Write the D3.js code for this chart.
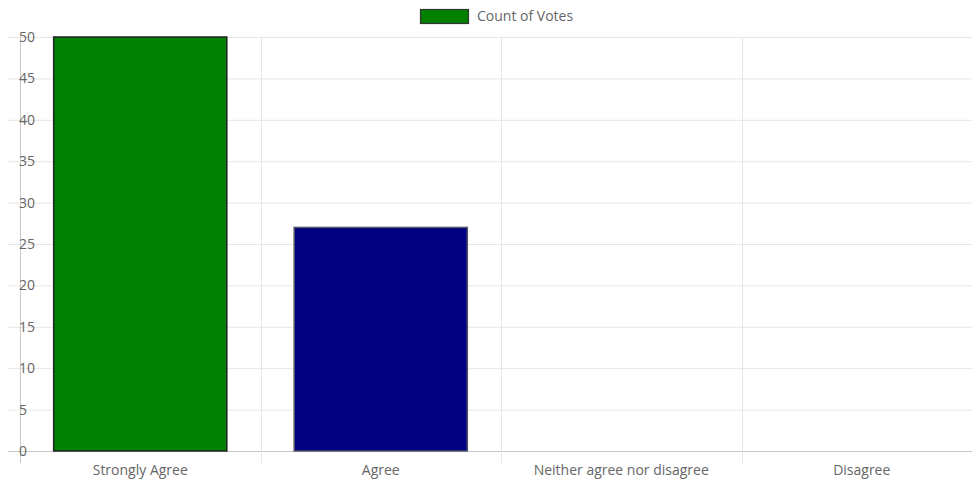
<!DOCTYPE html>
<html><head><meta charset="utf-8">
<script src="https://cdn.jsdelivr.net/npm/d3@7/dist/d3.min.js"></script>
<style>body{margin:0;background:#fff}svg{display:block}</style>
</head><body><svg id="c" width="972" height="486"></svg>
<script>
const categories = ["Strongly Agree", "Agree", "Neither agree nor disagree", "Disagree"];
const votes = [50, 27, 0, 0];
const barColors = ["#008000", "#000080", "#008000", "#000080"];
const barStrokes = ["#222222", "#555566", "#222222", "#555566"];
const yTicks = [0, 5, 10, 15, 20, 25, 30, 35, 40, 45, 50];
const seriesName = "Count of Votes";

(function () {
const svg = d3.select("#c");
const mLeft = 20, mRight = 982, mTop = 37, mBottom = 451;
const font = "'Open Sans', sans-serif";
const fs = 14;

const x = d3.scaleBand().domain(categories).range([mLeft, mRight]).paddingInner(0).paddingOuter(0);
const y = d3.scaleLinear().domain([0, 50]).range([mBottom, mTop]);

// horizontal grid
svg.append("g").selectAll("line").data(yTicks).join("line")
  .attr("x1", 8).attr("x2", mRight)
  .attr("y1", d => y(d) + 0.5).attr("y2", d => y(d) + 0.5)
  .attr("stroke", d => d === 0 ? "#c8c8c8" : "#e6e6e6").attr("stroke-width", 1);

// vertical grid at category boundaries
const bounds = categories.map(c => x(c)).concat([mRight]);
svg.append("g").selectAll("line").data(bounds.slice(1)).join("line")
  .attr("x1", d => Math.round(d) + 0.5).attr("x2", d => Math.round(d) + 0.5)
  .attr("y1", mTop).attr("y2", mBottom + 12)
  .attr("stroke", "#e6e6e6");

// y axis line
svg.append("line").attr("x1", mLeft + 0.5).attr("x2", mLeft + 0.5)
  .attr("y1", mTop).attr("y2", mBottom + 12).attr("stroke", "#c8c8c8");

// y labels
svg.append("g").selectAll("text").data(yTicks).join("text")
  .attr("x", mLeft - 1).attr("y", d => y(d)).attr("dy", "0.35em")
  .attr("fill", "#666").attr("font-family", font).attr("font-size", fs)
  .attr("text-anchor", "start")
  .text(d => d);

// bars
const bw = x.bandwidth() * 0.72;
svg.append("g").selectAll("rect").data(categories).join("rect")
  .attr("x", d => x(d) + (x.bandwidth() - bw) / 2)
  .attr("y", (d, i) => y(votes[i]))
  .attr("width", bw)
  .attr("height", (d, i) => y(0) - y(votes[i]))
  .attr("fill", (d, i) => barColors[i])
  .attr("stroke", (d, i) => votes[i] > 0 ? barStrokes[i] : "none")
  .attr("stroke-width", 1.5);

// x labels
svg.append("g").selectAll("text").data(categories).join("text")
  .attr("x", d => x(d) + x.bandwidth() / 2).attr("y", 475)
  .attr("text-anchor", "middle")
  .attr("fill", "#666").attr("font-family", font).attr("font-size", fs)
  .text(d => d);

// legend
svg.append("rect").attr("x", 420.5).attr("y", 9.5).attr("width", 48).attr("height", 14)
  .attr("fill", barColors[0]).attr("stroke", "#333").attr("stroke-width", 1.2);
svg.append("text").attr("x", 477).attr("y", 21)
  .attr("fill", "#666").attr("font-family", font).attr("font-size", fs)
  .text(seriesName);
})();
</script></body></html>
